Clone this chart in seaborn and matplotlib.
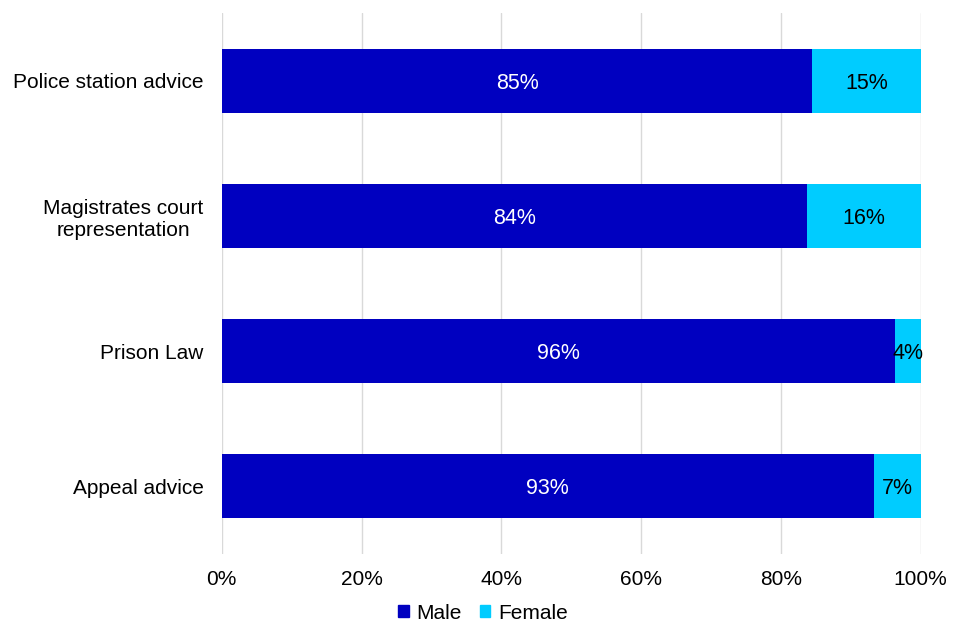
import numpy as np
import pandas as pd
import matplotlib
matplotlib.use("Agg")
import matplotlib.pyplot as plt
import seaborn as sns
from matplotlib.patches import Patch

categories = ["Police station advice", "Magistrates court\nrepresentation", "Prison Law", "Appeal advice"]
male = [84.5, 83.8, 96.4, 93.3]
female = [15.5, 16.2, 3.6, 6.7]
male_labels = ["85%", "84%", "96%", "93%"]
female_labels = ["15%", "16%", "4%", "7%"]

MALE_C = "#0000C0"
FEMALE_C = "#00CCFF"

sns.set_theme(style="white")
plt.rcParams["font.family"] = ["Liberation Sans", "DejaVu Sans"]
plt.rcParams["text.color"] = "black"

df = pd.DataFrame({"cat": categories, "male": male,
                   "total": np.array(male) + np.array(female)})

fig = plt.figure(figsize=(9.6, 6.4), dpi=100)
ax = fig.add_axes([0.231, 0.135, 0.728, 0.844])

sns.barplot(data=df, y="cat", x="total", color=FEMALE_C, orient="h",
            width=0.47, ax=ax, saturation=1, zorder=2, linewidth=0)
sns.barplot(data=df, y="cat", x="male", color=MALE_C, orient="h",
            width=0.47, ax=ax, saturation=1, zorder=3, linewidth=0)

for i in range(len(categories)):
    ax.text(male[i] / 2, i, male_labels[i], color="white", ha="center",
            va="center_baseline", fontsize=15.5, zorder=4)
    ax.text(male[i] + female[i] / 2, i, female_labels[i], color="black",
            ha="center", va="center_baseline", fontsize=15.5, zorder=4)

ax.set_xlim(0, 100)
ax.set_ylim(3.5, -0.5)
ax.set_xticks([0, 20, 40, 60, 80, 100])
ax.set_xticklabels([f"{v}%" for v in range(0, 101, 20)], fontsize=15)
ax.set_yticks(range(len(categories)))
ax.set_yticklabels(categories, fontsize=15, multialignment="center")
ax.set_xlabel("")
ax.set_ylabel("")
ax.grid(axis="x", color="#D9D9D9", linewidth=1, zorder=0)
ax.set_axisbelow(True)
for s in ax.spines.values():
    s.set_visible(False)
ax.tick_params(axis="both", length=0, colors="black")
ax.tick_params(axis="x", pad=12)
ax.tick_params(axis="y", pad=13)

handles = [Patch(color=MALE_C, label="Male"), Patch(color=FEMALE_C, label="Female")]
leg = fig.legend(handles=handles, loc="center", bbox_to_anchor=(0.503, 0.042), ncol=2,
                 frameon=False, fontsize=15, handlelength=0.5, handleheight=0.5,
                 handletextpad=0.35, columnspacing=0.9)
for t in leg.get_texts():
    t.set_color("black")

fig.savefig("out.png", dpi=100)
